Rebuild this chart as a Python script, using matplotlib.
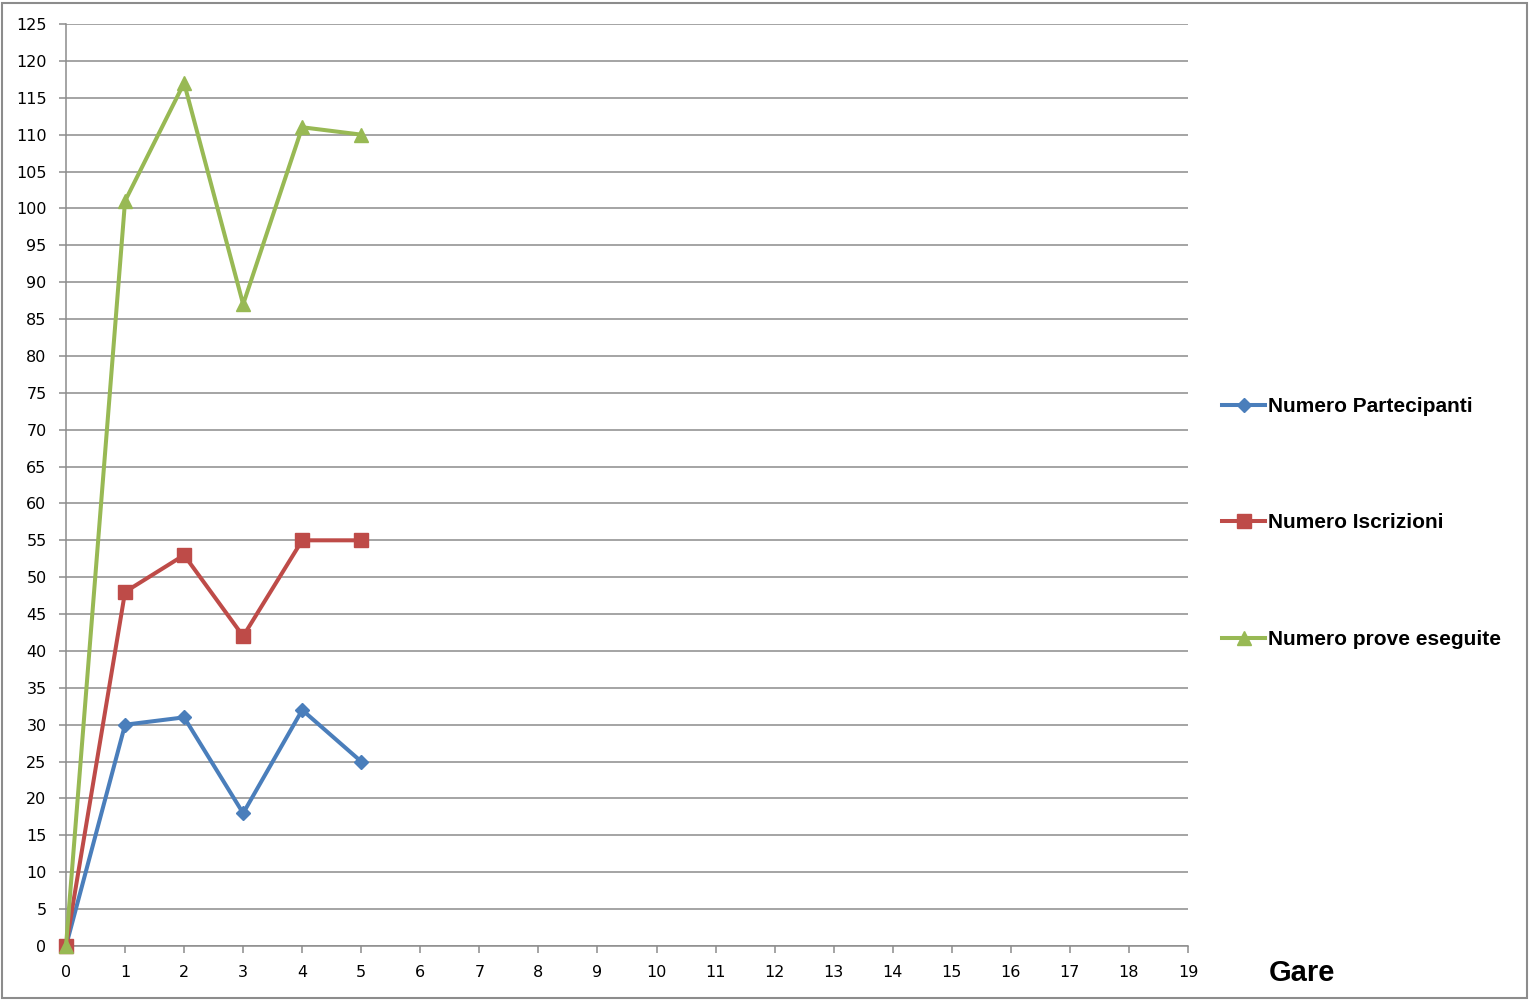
import matplotlib
matplotlib.use("Agg")
import matplotlib.pyplot as plt
from matplotlib.patches import Rectangle

gare = [0, 1, 2, 3, 4, 5]
partecipanti = [0, 30, 31, 18, 32, 25]
iscrizioni = [0, 48, 53, 42, 55, 55]
prove = [0, 101, 117, 87, 111, 110]
labels = ["Numero Partecipanti", "Numero Iscrizioni", "Numero prove eseguite"]
colors = ["#4A7EBB", "#BE4B48", "#98B954"]

fig = plt.figure(figsize=(15.3, 10), dpi=100)
ax = fig.add_axes([66/1530, 1-946/1000, (1188-66)/1530, (946-24)/1000])

grid_c = "#8C8C8C"
h1, = ax.plot(gare, partecipanti, color=colors[0], lw=2.9, marker="D", ms=7.5, clip_on=False, zorder=3)
h2, = ax.plot(gare, iscrizioni, color=colors[1], lw=2.9, marker="s", ms=9.5, clip_on=False, zorder=4)
h3, = ax.plot(gare, prove, color=colors[2], lw=2.9, marker="^", ms=10, clip_on=False, zorder=5)

ax.set_xlim(0, 19)
ax.set_ylim(0, 125)
ax.set_xticks(range(0, 20))
ax.set_yticks(range(0, 126, 5))
ax.yaxis.grid(True, color=grid_c, lw=1.1)
ax.set_axisbelow(True)
for s in ["top", "right"]:
    ax.spines[s].set_visible(False)
for s in ["left", "bottom"]:
    ax.spines[s].set_color(grid_c)
    ax.spines[s].set_linewidth(1.1)
ax.tick_params(axis="both", direction="out", length=5, width=1.1, color=grid_c,
               labelsize=11.5)
ax.tick_params(axis="x", pad=9)
ax.tick_params(axis="y", pad=9)
for t in ax.get_xticklabels() + ax.get_yticklabels():
    t.set_fontfamily("DejaVu Sans")

fig.legend([h1, h2, h3], labels, loc="center left", bbox_to_anchor=(1222/1530, 1-523/1000),
           frameon=False, prop={"family": "Liberation Sans", "weight": "bold", "size": 15},
           handlelength=2.07, handletextpad=0.12, labelspacing=4.68, borderpad=0, borderaxespad=0)

fig.text(1302/1530, 1-973/1000, "Gare", ha="center", va="center",
         fontfamily="Liberation Sans", fontweight="bold", fontsize=21)

fig.patches.append(Rectangle((2/1530, 2/1000), 1525/1530, 995/1000, transform=fig.transFigure,
                             fill=False, edgecolor="#8C8C8C", lw=1.5))

fig.savefig("out.png", dpi=100)
